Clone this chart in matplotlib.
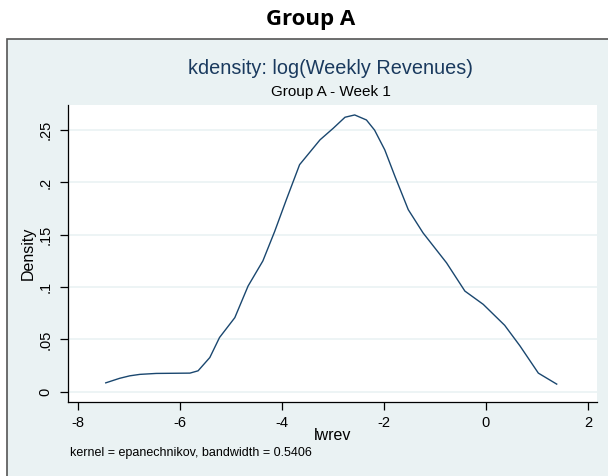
import matplotlib
matplotlib.use('Agg')
import matplotlib.pyplot as plt
from matplotlib.patches import Rectangle
import numpy as np

# curve points (lwrev, density)
lwrev = [-7.45, -7.18, -6.98, -6.78, -6.46, -5.80, -5.64, -5.41, -5.22, -4.92,
         -4.66, -4.37, -4.14, -3.91, -3.65, -3.25, -2.99, -2.76, -2.57, -2.34,
         -2.18, -1.98, -1.78, -1.52, -1.23, -0.77, -0.41, -0.05, 0.37, 0.67,
         1.03, 1.39]
density = [0.0085, 0.0128, 0.0152, 0.0166, 0.0175, 0.0178, 0.0200, 0.0327, 0.0518, 0.0708,
           0.1010, 0.1250, 0.1530, 0.1835, 0.2170, 0.2407, 0.2518, 0.2623, 0.2645, 0.2597,
           0.2500, 0.2311, 0.2057, 0.1740, 0.1518, 0.1232, 0.0962, 0.0835, 0.0635, 0.0438,
           0.0178, 0.0073]
xticks = [-8, -6, -4, -2, 0, 2]
yticks = [0, 0.05, 0.1, 0.15, 0.2, 0.25]
ytick_labels = ['0', '.05', '.1', '.15', '.2', '.25']

plt.rcParams['font.family'] = ['Liberation Sans', 'DejaVu Sans']

W, H = 608, 476
fig = plt.figure(figsize=(W / 100, H / 100), dpi=100)
fig.patch.set_facecolor('white')

# stata graph region (only left and top edges visible in the crop)
panel = Rectangle((7 / W, -0.05), 1.0, (H - 39) / H + 0.05, transform=fig.transFigure,
                  facecolor='#eaf2f3', edgecolor='#555555', linewidth=1.2, zorder=-5)
fig.patches.append(panel)

fig.text(311 / W, 1 - 19 / H, 'Group A', ha='center', va='center',
         fontsize=16, fontweight='bold', family=['Open Sans', 'DejaVu Sans'])
fig.text(331 / W, 1 - 69 / H, 'kdensity: log(Weekly Revenues)', ha='center', va='center',
         fontsize=14.3, color='#1a3a5e')
fig.text(331 / W, 1 - 92 / H, 'Group A - Week 1', ha='center', va='center',
         fontsize=11, color='black')

ax = fig.add_axes([68 / W, (H - 402) / H, (597 - 68) / W, (402 - 105) / H])
ax.set_facecolor('white')
ax.plot(lwrev, density, color='#1a476f', linewidth=1.0)

ax.set_xlim(-8.19, 2.18)
ax.set_ylim(-0.0098, 0.274)
ax.set_xticks(xticks)
ax.set_xticklabels([str(t) for t in xticks], fontsize=10.5)
ax.set_yticks(yticks)
ax.set_yticklabels(ytick_labels, fontsize=10.5, rotation=90, va='center')
ax.yaxis.grid(True, color='#eaf2f3', linewidth=1.2)
ax.set_axisbelow(True)
ax.tick_params(direction='out', length=6, width=0.9, color='black')
ax.tick_params(axis='x', pad=4)
ax.tick_params(axis='y', pad=5)
for s in ['top', 'right']:
    ax.spines[s].set_visible(False)
for s in ['left', 'bottom']:
    ax.spines[s].set_linewidth(0.9)

ax.set_xlabel('lwrev', fontsize=11.5, labelpad=-1)
ax.set_ylabel('Density', fontsize=11.5, labelpad=2)

fig.text(70 / W, 1 - 453 / H, 'kernel = epanechnikov, bandwidth = 0.5406',
         ha='left', va='center', fontsize=9)

fig.savefig('out.png', dpi=100)
